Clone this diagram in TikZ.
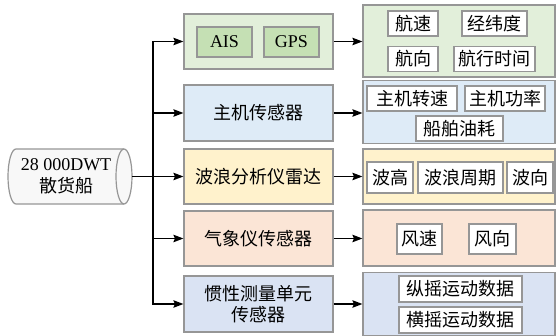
\documentclass[tikz,border=0pt]{standalone}
\usepackage{fontspec}
\setmainfont{Liberation Serif}
\newfontfamily\cjk{Noto Sans CJK SC}
\usetikzlibrary{arrows.meta}
\definecolor{bordergray}{RGB}{150,150,150}
\definecolor{grnout}{RGB}{226,239,218}
\definecolor{grnin}{RGB}{197,224,180}
\definecolor{bluea}{RGB}{222,235,247}
\definecolor{yell}{RGB}{255,242,204}
\definecolor{pinkc}{RGB}{251,229,214}
\definecolor{blueb}{RGB}{218,227,243}
\definecolor{cylfill}{RGB}{248,248,248}
\tikzset{
  box/.style={draw=bordergray, line width=1.2pt, inner sep=0pt, align=center,
    font=\fontsize{18}{21}\selectfont\cjk},
  midbox/.style={box, minimum width=149pt, minimum height=55pt},
  rightbox/.style={box, minimum width=192pt},
  item/.style={box, fill=white, minimum height=25pt},
  inbox/.style={box, fill=grnin, minimum width=55pt, minimum height=30pt,
    font=\fontsize{18}{21}\selectfont\rmfamily},
  arr/.style={line width=1.3pt, -{Stealth[length=10pt,width=7.5pt,inset=1.5pt]}},
  ln/.style={line width=1.3pt}
}
\begin{document}
\begin{tikzpicture}[x=1pt,y=-1pt]
\clip (0,0) rectangle (556,336);
\fill[white] (0,0) rectangle (556,336);
% ship cylinder
\node[inner sep=0pt, minimum width=125pt, minimum height=55pt] (ship) at (69.5,176.5) {};
\draw[draw=bordergray, line width=1.2pt, fill=cylfill]
  (16,149) -- (124,149) arc[start angle=-90, end angle=90, x radius=8, y radius=27.5]
  -- (16,204) arc[start angle=90, end angle=270, x radius=8, y radius=27.5] -- cycle;
\draw[draw=bordergray, line width=1.2pt] (124,149) arc[start angle=-90, end angle=-270, x radius=8, y radius=27.5];
\node[align=center, font=\fontsize{18}{22}\selectfont, inner sep=0pt] (shiptxt) at (66,176.5) {28 000DWT\\{\cjk 散货船}};
% middle boxes
\node[midbox, fill=grnout] (m1) at (258.5,41.5) {};
\node[inbox] (ais) at (224.5,42) {AIS};
\node[inbox] (gps) at (291.5,42) {GPS};
\node[midbox, fill=bluea, minimum height=56pt] (m2) at (258.5,113) {主机传感器};
\node[midbox, fill=yell] (m3) at (258.5,176.5) {波浪分析仪雷达};
\node[midbox, fill=pinkc] (m4) at (258.5,238.5) {气象仪传感器};
\node[midbox, fill=blueb, minimum height=56pt] (m5) at (258.5,304) {惯性测量单元\\传感器};
% right boxes
\node[rightbox, fill=grnout, minimum height=72pt] (r1) at (459,41) {};
\node[rightbox, fill=bluea, minimum height=63pt] (r2) at (459,112) {};
\node[rightbox, fill=yell, minimum height=55pt] (r3) at (459,176.5) {};
\node[rightbox, fill=pinkc, minimum height=56pt] (r4) at (459,238) {};
\node[rightbox, fill=blueb, minimum height=63pt] (r5) at (459,304) {};
% items
\node[item, minimum width=50pt] (hs) at (413,23.5) {航速};
\node[item, minimum width=65pt] (jwd) at (494.5,23.5) {经纬度};
\node[item, minimum width=50pt] (hx) at (413,59) {航向};
\node[item, minimum width=81pt] (hxsj) at (494.5,59) {航行时间};
\node[item, minimum width=90pt] (zjzs) at (412,98.5) {主机转速};
\node[item, minimum width=80pt] (zjgl) at (505,98.5) {主机功率};
\node[item, minimum width=87pt] (cbyh) at (459.5,128.5) {船舶油耗};
\node[item, minimum width=46pt, minimum height=31pt] (bg) at (390,177.5) {波高};
\node[item, minimum width=85pt, minimum height=31pt] (blzq) at (460.5,177.5) {波浪周期};
\node[item, minimum width=46pt, minimum height=31pt] (bx) at (530,177.5) {波向};
\node[item, minimum width=45pt, minimum height=30pt] (fs) at (419.5,239) {风速};
\node[item, minimum width=47pt, minimum height=30pt] (fx) at (492.5,239) {风向};
\node[item, minimum width=123pt, minimum height=26pt] (zy) at (460.5,289) {纵摇运动数据};
\node[item, minimum width=123pt, minimum height=26pt] (hy) at (460.5,320) {横摇运动数据};
% connectors
\coordinate (tr) at (153,176.5);
\draw[ln] (ship.east) -- (tr);
\draw[arr] (tr) |- (m1.west);
\draw[arr] (tr) |- (m2.west);
\draw[arr] (tr) -- (m3.west);
\draw[arr] (tr) |- (m4.west);
\draw[arr] (tr) |- (m5.west);
\draw[arr] (m1.east) -- (m1.east -| r1.west);
\draw[arr] (m2.east) -- (m2.east -| r2.west);
\draw[arr] (m3.east) -- (m3.east -| r3.west);
\draw[arr] (m4.east) -- (m4.east -| r4.west);
\draw[arr] (m5.east) -- (m5.east -| r5.west);
\end{tikzpicture}
\end{document}
